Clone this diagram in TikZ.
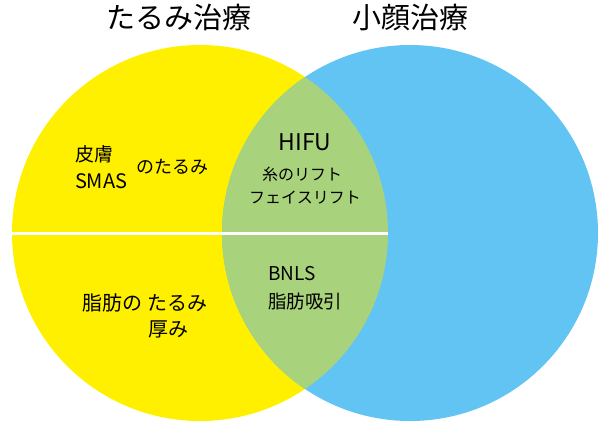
\documentclass[tikz,border=0pt]{standalone}
\usepackage{fontspec}
\setmainfont{Noto Sans CJK JP}
\definecolor{vyellow}{RGB}{255,240,0}
\definecolor{vblue}{RGB}{98,196,242}
\definecolor{vgreen}{RGB}{168,211,124}
\begin{document}
\begin{tikzpicture}[x=1pt,y=-1pt,
  lbl/.style={inner sep=0pt,outer sep=0pt,text=black},
  fs/.style={font=\fontsize{#1}{#1}\selectfont}]
\useasboundingbox (0,0) rectangle (600,421);
% circles
\coordinate (yc) at (200,233);
\coordinate (bc) at (410,233);
\fill[vyellow] (yc) circle[radius=188];
\fill[vblue] (bc) circle[radius=188];
\begin{scope}
  \clip (yc) circle[radius=188];
  \fill[vgreen] (bc) circle[radius=188];
\end{scope}
% white divider across the yellow circle
\coordinate (lw) at (12,233);
\coordinate (le) at (388,233);
\draw[white,line width=3pt] (lw) -- (le);
% titles
\node[lbl,fs=29,anchor=base] (t1) at (179,28) {たるみ治療};
\node[lbl,fs=29,anchor=base] (t2) at (410,28) {小顔治療};
% upper left
\node[lbl,fs=19,anchor=base west] (hifu1) at (75,161) {皮膚};
\node[lbl,fs=20,anchor=base west] (smas) at (75,188) {SMAS};
\node[lbl,fs=18,anchor=base west] (tarumi1) at (136,173) {のたるみ};
% upper middle
\node[lbl,fs=23,anchor=base] (hifu) at (305,150) {HIFU};
\node[lbl,fs=16,anchor=base] (ito) at (302,180) {糸のリフト};
\node[lbl,fs=16,anchor=base] (face) at (305,203) {フェイスリフト};
% lower middle
\node[lbl,fs=19,anchor=base west] (bnls) at (268,280) {BNLS};
\node[lbl,fs=18.5,anchor=base west] (kyuin) at (268,308) {脂肪吸引};
% lower left
\node[lbl,fs=20,anchor=base west] (shibou) at (82,310) {脂肪の\hspace{5pt}たるみ};
\node[lbl,fs=20,anchor=base west] (atsumi) at (148,336) {厚み};
\end{tikzpicture}
\end{document}
